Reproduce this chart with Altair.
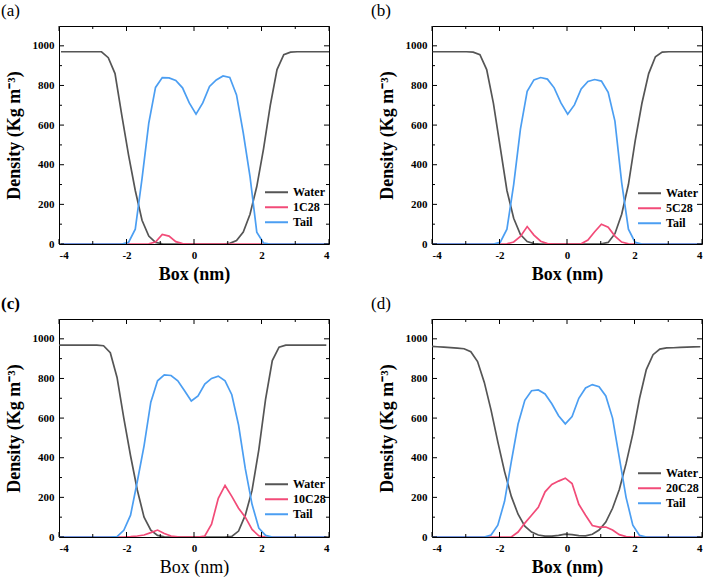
import altair as alt
import pandas as pd

# ---------------- data ----------------
STEP = 0.2
X_START = {"a": -3.94, "b": -3.98, "c": -4.08, "d": -4.05}

water_a = [970, 970, 970, 970, 970, 970, 970, 940, 860, 650, 450, 270, 120, 40, 8, 1,
           0, 0, 0, 0, 0, 0, 0, 0, 0,
           3, 17, 60, 150, 290, 480, 700, 880, 955, 968, 970, 970, 970, 970, 970, 970]
c28_a = [0, 0, 0, 0, 0, 0, 0, 0, 0, 0, 0, 0, 0, 1, 10, 48, 40, 12, 2,
         0, 0, 0, 0, 0, 0, 0, 0, 0, 0, 0, 0, 0, 0, 0, 0, 0, 0, 0, 0, 0, 0]
tail_a = [0, 0, 0, 0, 0, 0, 0, 0, 0, 0,
          8, 75, 330, 610, 790, 840, 838, 825, 788, 712, 655, 712, 795, 828, 848, 840,
          752, 560, 340, 60, 5,
          0, 0, 0, 0, 0, 0, 0, 0, 0, 0]

water_b = [970, 970, 970, 970, 970, 970, 968, 955, 880, 710, 490, 270, 130, 48, 12, 2,
           0, 0, 0, 0, 0, 0, 0, 0, 0,
           1, 8, 52, 150, 300, 520, 710, 860, 945, 968, 970, 970, 970, 970, 970, 970]
c28_b = [0, 0, 0, 0, 0, 0, 0, 0, 0, 0, 0, 1, 10, 38, 88, 45, 14, 2, 0, 0, 0, 0,
         1, 20, 62, 100, 85, 40, 10, 1, 0, 0, 0, 0, 0, 0, 0, 0, 0, 0, 0]
tail_b = [0, 0, 0, 0, 0, 0, 0, 0, 0, 0,
          8, 75, 300, 580, 770, 828, 840, 832, 788, 712, 655, 702, 782, 820, 830, 822,
          765, 620, 310, 75, 8,
          0, 0, 0, 0, 0, 0, 0, 0, 0, 0]

water_c = [968, 968, 968, 968, 968, 968, 968, 965, 930, 805, 600, 410, 237, 100, 34, 8, 1,
           0, 0, 0, 0, 0, 0, 0, 0, 0,
           3, 30, 110, 235, 440, 695, 890, 958, 968, 968, 968, 968, 968, 968, 968]
c28_c = [0, 0, 0, 0, 0, 0, 0, 0, 0, 0, 0, 2, 5, 10, 22, 35, 18, 5, 1, 0, 0, 0,
         5, 65, 195, 260, 205, 145, 100, 38, 6, 0, 0, 0, 0, 0, 0, 0, 0, 0, 0]
tail_c = [0, 0, 0, 0, 0, 0, 0, 0, 0,
          2, 34, 110, 280, 460, 680, 788, 818, 815, 788, 738, 686, 712, 772, 800, 812,
          788, 718, 565, 345, 165, 45, 8,
          0, 0, 0, 0, 0, 0, 0, 0, 0]

water_d = [962, 960, 958, 956, 953, 950, 935, 885, 780, 640, 480, 330, 205, 115, 55, 25,
           10, 4, 4, 8, 14, 12, 7, 6, 14, 35, 75, 145, 240, 370, 520, 700, 845, 920, 948,
           954, 955, 957, 958, 959, 960]
c28_d = [0, 0, 0, 0, 0, 0, 0, 0, 0, 0, 0, 0, 0,
         25, 70, 110, 150, 228, 265, 282, 297, 270, 165, 110, 58, 50, 50, 35, 12, 2,
         0, 0, 0, 0, 0, 0, 0, 0, 0, 0, 0]
tail_d = [0, 0, 0, 0, 0, 0, 0, 0, 0,
          10, 60, 180, 380, 570, 690, 738, 742, 722, 672, 612, 571, 608, 700, 752, 769,
          758, 712, 600, 400, 200, 60, 8,
          0, 0, 0, 0, 0, 0, 0, 0, 0]

X_MAJOR = [-4, -2, 0, 2, 4]
X_MINOR = [-3, -1, 1, 3]
Y_MAJOR = [0, 200, 400, 600, 800, 1000]
Y_MINOR = [100, 300, 500, 700, 900]
COLORS = ["#555555", "#f24b78", "#4b9ef2"]

# ---------------- styling ----------------
W, H = 270, 218
FONT = "Liberation Serif"
MAJ, MIN = 5, 3


def tick_layers(xenc, yenc):
    out = []
    for vals, ln in ((X_MAJOR, MAJ), (X_MINOR, MIN)):
        b = alt.Chart(pd.DataFrame({"x": vals})).mark_rule(color="black", strokeWidth=1)
        out.append(b.encode(x=xenc, y=alt.value(H), y2=alt.value(H - ln)))
        out.append(b.encode(x=xenc, y=alt.value(0), y2=alt.value(ln)))
    for vals, ln in ((Y_MAJOR, MAJ), (Y_MINOR, MIN)):
        b = alt.Chart(pd.DataFrame({"y": vals})).mark_rule(color="black", strokeWidth=1)
        out.append(b.encode(y=yenc, x=alt.value(0), x2=alt.value(ln)))
        out.append(b.encode(y=yenc, x=alt.value(W), x2=alt.value(W - ln)))
    return out


def panel(key, tag, label, water, c28, tail, legend_y, title_dx,
          tag_bold=False, xtitle_bold=True):
    x0 = X_START[key]
    xs = [round(x0 + STEP * i, 3) for i in range(len(water))]
    rows = []
    for name, vals in (("Water", water), (label, c28), ("Tail", tail)):
        rows += [{"x": x, "y": v, "series": name} for x, v in zip(xs, vals)]
    df = pd.DataFrame(rows)
    domain = ["Water", label, "Tail"]

    color = alt.Color(
        "series:N",
        scale=alt.Scale(domain=domain, range=COLORS),
        legend=alt.Legend(
            orient="none", legendX=205, legendY=legend_y, title=None,
            symbolType="stroke", symbolSize=529, symbolStrokeWidth=2,
            labelFont=FONT, labelFontSize=12, labelFontWeight="bold",
            labelColor="black", labelOffset=4, rowPadding=0, padding=0,
            clipHeight=14.5,
        ),
    )
    xenc = alt.X(
        "x:Q",
        scale=alt.Scale(domain=[-4, 4], nice=False, zero=False),
        axis=alt.Axis(
            values=X_MAJOR, labelExpr="'' + datum.value", domain=False, ticks=False,
            grid=False, labelFont=FONT, labelFontSize=11, labelFontWeight="bold",
            labelColor="black", labelPadding=5, title="Box (nm)", titleFont=FONT,
            titleFontSize=18, titleFontWeight="bold" if xtitle_bold else "normal",
            titleColor="black", titlePadding=5,
        ),
    )
    yenc = alt.Y(
        "y:Q",
        scale=alt.Scale(domain=[0, 1100], nice=False),
        axis=alt.Axis(
            values=Y_MAJOR, format="d", domain=False, ticks=False, grid=False,
            labelFont=FONT, labelFontSize=11, labelFontWeight="bold",
            labelColor="black", labelPadding=5, title="Density (Kg m⁻³)",
            titleFont=FONT, titleFontSize=18, titleFontWeight="bold",
            titleColor="black", titlePadding=9,
        ),
    )
    base = alt.Chart(df)
    layers = []
    for name in domain:
        layers.append(
            base.transform_filter(alt.datum.series == name)
            .mark_line(clip=True, strokeWidth=1.7)
            .encode(x=xenc, y=yenc, color=color)
        )
    layers += tick_layers(xenc, yenc)
    return alt.layer(*layers).properties(
        width=W, height=H,
        title=alt.TitleParams(
            text=tag, anchor="start", frame="group", dx=title_dx, offset=6,
            fontSize=17, font=FONT, fontWeight="bold" if tag_bold else "normal",
            color="black",
        ),
    )


pa = panel("a", "(a)", "1C28", water_a, c28_a, tail_a, 159, -58)
pb = panel("b", "(b)", "5C28", water_b, c28_b, tail_b, 160, -61)
pc = panel("c", "(c)", "10C28", water_c, c28_c, tail_c, 158, -58, tag_bold=True, xtitle_bold=False)
pd_ = panel("d", "(d)", "20C28", water_d, c28_d, tail_d, 147, -61)

row1 = alt.hconcat(pa, pb, spacing=40).resolve_scale(color="independent").resolve_legend(color="independent")
row2 = alt.hconcat(pc, pd_, spacing=40).resolve_scale(color="independent").resolve_legend(color="independent")

chart = (
    alt.vconcat(row1, row2, spacing=10)
    .resolve_scale(color="independent")
    .resolve_legend(color="independent")
    .properties(padding={"left": 0, "top": 1, "right": 0, "bottom": 0}, background="white")
    .configure_view(stroke="black", strokeWidth=1)
)

chart.save("out.html", embed_options={"renderer": "svg", "actions": False})
